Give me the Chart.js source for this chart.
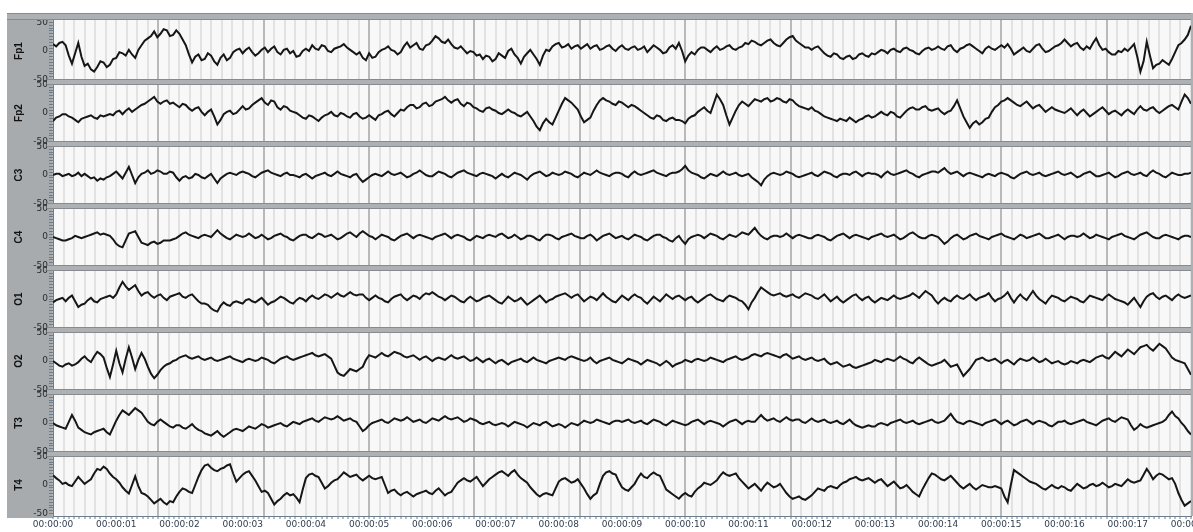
<!DOCTYPE html>
<html>
<head>
    <meta charset="utf-8" />
    <title>EEG</title>
    <script src="https://cdn.jsdelivr.net/npm/chart.js"></script>
    <style>
        html, body { margin: 0; padding: 0; background: #ffffff; }
        #wrap { width: 1193px; height: 532px; }
    </style>
</head>
<body>
    <div id="wrap">
        <canvas id="eeg" width="1193" height="532"></canvas>
    </div>

    <script>
        // canales y datos (uV), una muestra cada 0.05 s, una linea = 1 s
        const channels = ['Fp1', 'Fp2', 'C3', 'C4', 'O1', 'O2', 'T3', 'T4'];
        const sampleStep = 0.05;
        const secondsShown = 18;
        const yTickLabels = [50, 0, -50];
        const timeLabels = ['00:00:00', '00:00:01', '00:00:02', '00:00:03', '00:00:04', '00:00:05',
            '00:00:06', '00:00:07', '00:00:08', '00:00:09', '00:00:10', '00:00:11', '00:00:12',
            '00:00:13', '00:00:14', '00:00:15', '00:00:16', '00:00:17', '00:00:18'];

        const fp1 = [
            12, 8, 14, 16, 10, -8, -22, -4, 14, -10, -26, -22, -32, -36, -28, -18, -20, -28, -24, -14,
            -12, -2, -4, -8, 2, -6, -12, 2, 10, 18, 22, 26, 34, 24, 30, 38, 36, 26, 28, 36,
            30, 20, 10, -6, -20, -10, -6, -16, -14, -4, -8, -18, -24, -12, -6, -16, -12, -2, 2, 4,
            -4, 2, 6, -2, -8, -4, 2, 6, -2, 4, 8, -2, -6, 2, 4, -4, 0, -10, -8, 0,
            4, 0, 10, 4, 2, 10, 8, 0, -2, 4, 6, 8, 12, 6, 2, -2, -6, -2, -12, -16,
            -4, -12, -10, -2, 2, 4, 8, 2, 0, -6, -2, 8, 15, 6, 10, 14, 4, 2, 10, 12,
            18, 26, 22, 16, 14, 20, 12, 6, 4, 8, 2, -4, 0, -2, -8, -6, -14, -8, -10, -18,
            -14, -4, -8, -12, 0, 4, -6, -12, -22, -10, -4, 2, -6, -14, -24, -8, 2, 0, 8, 12,
            14, 6, 8, 12, 4, 8, 10, 4, 8, 12, 4, 8, 10, 2, 4, 8, 10, 4, 0, 6,
            10, 4, 2, 6, 8, 2, 4, 8, -2, 4, 10, 6, 2, -4, -2, 6, 10, 4, 14, 0,
            -18, -8, -2, -6, 2, 6, 6, 2, -2, 4, 8, 2, 4, 8, 10, 4, 2, 6, 8, 14,
            12, 18, 16, 12, 10, 14, 18, 20, 14, 10, 8, 14, 20, 24, 26, 18, 14, 10, 6, 6,
            2, 6, 8, 2, -4, -8, -10, -4, -6, -12, -14, -10, -8, -14, -12, -6, -4, -8, -10, -4,
            -6, -2, 2, 0, -4, 2, 4, 0, -2, 4, 6, 2, 0, -4, -6, 0, 4, 6, 2, 4,
            8, 4, 2, 8, 10, 2, -2, 4, 6, 10, 12, 8, 4, 0, -4, 4, 8, 4, 2, 6,
            10, 6, 12, 4, -6, -2, 2, 6, 0, -2, 4, 10, 12, 4, -2, 0, 4, 8, 10, 14,
            20, 14, 8, 12, 14, 6, 2, 8, 4, 14, 22, 10, 2, 4, -2, -6, -6, 0, -2, 4,
            0, 6, 12, -10, -36, -18, 16, -8, -30, -24, -22, -16, -20, -24, -14, -2, 10, 14, 20, 28,
            44];

        const fp2 = [
            -14, -8, -6, -2, -2, -6, -8, -12, -16, -10, -8, -6, -4, -8, -10, -4, -6, -4, -2, -4,
            2, 4, -2, 4, 8, 2, 6, 10, 14, 16, 20, 24, 28, 20, 16, 20, 22, 16, 18, 14,
            10, 16, 14, 8, 4, 8, 10, 2, -4, 2, 6, -6, -20, -12, -2, 2, 4, -2, 0, 6,
            12, 6, 8, 14, 18, 22, 26, 18, 14, 22, 20, 10, 6, 12, 10, 4, 2, 0, -4, -8,
            -10, -4, -6, -10, -14, -8, -4, -2, 2, -4, -6, 0, -2, -6, -8, -2, 0, -6, -10, -8,
            -4, -8, -12, -4, -2, 2, 4, -2, -6, 0, 6, 4, 10, 14, 14, 8, 10, 16, 18, 12,
            14, 20, 22, 24, 28, 22, 18, 22, 24, 16, 12, 18, 16, 10, 8, 4, 2, 8, 10, 6,
            4, 0, -2, 2, 6, 2, 0, -4, -6, -2, 2, -6, -14, -24, -30, -18, -10, -16, -20, -8,
            4, 16, 26, 22, 18, 12, 6, -6, -16, -12, -8, 4, 14, 22, 26, 22, 20, 16, 14, 20,
            18, 14, 10, 14, 12, 8, 4, 0, -4, -8, -10, -4, -6, -12, -14, -10, -8, -12, -12, -14,
            -18, -10, -6, -4, 2, 6, 10, 4, 0, 16, 32, 24, 14, -4, -20, -8, 4, 14, 20, 16,
            12, 18, 24, 22, 20, 24, 26, 20, 22, 26, 24, 20, 18, 24, 22, 16, 12, 10, 8, 6,
            10, 4, 2, -2, -6, -8, -10, -12, -14, -10, -12, -14, -8, -12, -16, -12, -10, -6, -4, -8,
            -6, -2, 2, -2, -4, 2, 0, -6, -8, -2, 4, 8, 10, 6, 6, 10, 12, 6, 4, 6,
            8, 2, -2, 2, 4, 12, 22, 8, -6, -16, -26, -18, -14, -20, -16, -10, -8, 2, 10, 14,
            20, 22, 26, 22, 18, 14, 12, 16, 20, 14, 8, 12, 14, 8, 2, 6, 10, 6, 4, 2,
            0, 4, 8, 2, -4, 2, 6, 0, -6, -2, 2, 6, 10, 4, -2, 2, 4, 0, -4, 2,
            6, 2, -2, 6, 12, 6, 4, 8, 10, 4, 0, 4, 8, 12, 14, 10, 6, 20, 32, 26,
            16];

        const c3 = [
            0, 2, 2, -2, 0, 2, -2, 0, 4, -2, 2, -2, -6, -4, -10, -6, -8, -4, -2, 2,
            6, 0, -6, 4, 14, 0, -14, -4, 2, 4, 8, 2, 4, 8, 6, 2, 2, 6, 4, -4,
            -10, -4, -2, -6, -4, 2, 0, -4, -6, -2, 2, -6, -14, -6, -2, 2, 4, 2, 0, 4,
            6, 4, 2, -2, -4, 0, 4, 6, 8, 4, 2, 0, -2, 2, 4, 0, 0, -2, -4, 0,
            2, -2, -6, -2, 0, 2, 4, 0, -2, 2, 6, 2, 0, -2, -4, 0, 2, -6, -12, -8,
            -4, 0, 2, 0, -2, 2, 6, 2, 0, 2, 4, 0, -4, -2, 2, 4, 8, 4, 0, -2,
            -2, 2, 6, 4, 2, -2, -4, 0, 4, 6, 8, 4, 2, 0, -2, 2, 4, 2, 0, -2,
            -6, -2, 2, -2, -4, 0, 4, 2, 0, -4, -8, -2, 2, 4, 6, 2, -2, 0, 4, 2,
            0, 2, 6, 4, 2, -2, -4, 0, 4, 2, 0, 4, 8, 4, 2, 0, -2, 2, 4, 4,
            2, -2, -4, 2, 6, 2, 0, 2, 4, 6, 8, 4, 2, 0, -2, 2, 4, 4, 6, 10,
            16, 8, 4, 2, 0, -4, -6, -2, 2, 0, -2, 2, 6, 2, 0, 2, 4, 0, -2, 0,
            2, -4, -8, -12, -18, -8, -2, 2, 4, 2, 0, 2, 6, 4, 2, -2, -4, -2, 0, 2,
            4, 0, -2, 2, 6, 4, 2, -2, -4, 0, 2, 2, 0, 4, 6, 2, -2, 2, 4, 2,
            2, 0, -4, 2, 6, 2, 0, 2, 4, 6, 8, 4, 2, -2, -4, 0, 2, 4, 6, 6,
            4, 8, 12, 6, 2, 4, 6, 2, -2, 2, 4, 2, 0, -2, -4, 0, 2, 0, -2, 2,
            4, 2, 0, -4, -6, -2, 2, 4, 6, 2, 0, 2, 4, 0, -2, 0, 2, 4, 6, 2,
            0, 2, 4, 0, -4, -2, 2, 4, 6, 2, -2, -2, 0, 2, 4, 0, -4, -2, 2, 4,
            6, 2, 0, 2, 4, 0, -2, 4, 8, 4, 2, -2, -4, 0, 4, 2, 0, 0, 2, 2,
            4];

        const c4 = [
            0, -2, -4, -6, -6, -4, -2, 2, 0, -2, 0, 2, 4, 6, 8, 4, 6, 4, 2, -4,
            -12, -16, -18, -6, 6, 8, 10, 0, -10, -12, -14, -10, -8, -12, -10, -6, -6, -6, -4, -2,
            2, 6, 8, 4, 2, 0, -2, 2, 4, 2, 0, 6, 12, 6, 2, -2, -4, 0, 4, 2,
            0, 2, 6, 2, -2, 0, 4, 0, -4, -2, 2, 4, 6, 2, 0, -4, -6, -2, 2, 4,
            4, 0, -2, 2, 6, 4, 0, 2, 4, 0, -4, -2, 2, 6, 8, 4, 0, 6, 10, 6,
            2, 0, -4, 0, 4, 2, 0, -4, -6, -2, 2, 4, 6, 2, -2, 2, 4, 2, 0, -2,
            -4, 0, 2, 4, 6, 2, -2, 2, 4, 2, 0, -4, -6, -2, 2, 0, -2, 2, 4, 2,
            0, 4, 6, 2, -2, 0, 4, 0, -4, -2, 2, 2, 0, -4, -6, 0, 4, 4, 2, -2,
            -4, 0, 2, 4, 6, 2, 0, -2, -2, 2, 4, 0, -6, -2, 2, 4, 6, 2, -2, 0,
            2, -2, -4, 0, 4, 2, 0, -4, -6, -2, 2, 4, 4, 0, -2, -6, -8, -2, 2, -6,
            -12, -4, 0, 2, 4, 2, -2, 2, 6, 4, 2, -2, -4, 0, 4, 2, 0, 4, 8, 6,
            4, 10, 16, 8, 2, -2, -4, 0, 2, 2, 0, 2, 6, 2, -2, 2, 4, 2, 0, -2,
            -2, 2, 4, 2, 0, -4, -6, -2, 2, 4, 6, 2, -2, 2, 4, 2, 0, -2, -4, 0,
            2, 4, 6, 2, 0, 2, 4, 0, -4, -2, 2, 6, 8, 4, 0, -2, -2, 2, 4, 2,
            0, -6, -12, -8, -2, 2, 4, 0, -4, -2, 2, 4, 6, 2, 0, -2, -4, 0, 2, 4,
            6, 2, 0, -2, -4, 0, 4, 2, -2, 0, 2, 4, 6, 2, -2, -2, 0, 2, 4, 0,
            -4, 0, 2, 2, 0, 2, 6, 2, -2, 0, 4, 2, 0, -2, -4, 0, 2, 4, 6, 2,
            0, -2, -4, 0, 4, 6, 8, 4, 0, -2, -2, 2, 4, 2, 0, -2, -4, 0, 2, 2,
            0];

        const o1 = [
            -6, -2, 0, 2, -4, 2, 6, -4, -14, -10, -8, -2, 2, -4, -6, 0, 2, 4, 6, 2,
            8, 20, 30, 22, 16, 20, 24, 14, 6, 10, 12, 6, 2, 6, 8, 2, -2, 4, 6, 8,
            10, 4, 2, 6, 8, 2, -4, -8, -8, -10, -16, -20, -22, -12, -6, -10, -12, -6, -4, -6,
            -8, -2, 0, -4, -6, -2, 2, -4, -10, -6, -4, 0, 4, 2, -2, -6, -8, -2, 2, 0,
            -4, 2, 6, 2, 0, 4, 8, 6, 2, 6, 10, 6, 4, 8, 12, 8, 6, 8, 8, 2,
            -2, 2, 6, 2, 0, -4, -6, 0, 4, 6, 8, 2, -2, 2, 6, 4, 0, 6, 10, 8,
            12, 8, 4, 2, -2, 2, 6, 4, 0, -4, -6, 0, 4, 0, -4, -2, 2, 4, 6, 2,
            -2, -6, -8, -2, 4, 0, -4, -2, 2, -4, -10, -6, -2, 2, 6, 0, -6, -2, 0, 4,
            6, 8, 10, 6, 2, 6, 8, 2, -4, 0, 4, 2, -2, 4, 10, 4, 0, -4, -6, 0,
            6, 2, -2, 4, 8, 4, 2, -4, -8, -2, 4, 0, -4, 2, 8, 4, 0, 4, 6, 2,
            -2, 2, 4, -2, -6, -2, 2, 6, 8, 4, 0, -2, -4, 2, 6, 4, 2, -2, -4, -10,
            -18, -6, 2, 12, 20, 16, 12, 8, 6, 8, 10, 6, 4, 6, 8, 4, 2, 6, 10, 8,
            6, 2, 0, 4, 8, 2, -4, 0, 4, -2, -6, -2, 2, 6, 8, 2, -2, 2, 4, -2,
            -6, -2, 2, 0, -2, 2, 6, 2, 0, 2, 4, 6, 10, 6, 2, 8, 14, 10, 6, -2,
            -8, -2, 2, -2, -4, 2, 6, 2, 0, 4, 8, 2, -2, 2, 4, 6, 10, 2, -4, 0,
            2, 6, 12, 2, -6, 2, 8, 2, -2, 6, 14, 6, 0, -4, -8, 0, 6, 4, 2, -2,
            -4, 0, 4, 2, 0, -4, -6, 0, 6, 4, 2, 0, -2, 4, 8, 4, 0, -2, -4, -6,
            -10, -4, 2, -6, -14, -4, 4, 8, 10, 4, 0, 4, 6, 2, -2, 4, 8, 4, 2, 4,
            6];

        const o2 = [
            0, -4, -8, -10, -6, -4, -8, -6, -2, 4, 8, 2, -2, 8, 16, 12, 6, -12, -28, -6,
            18, -4, -20, 4, 24, 6, -14, 2, 14, 4, -10, -22, -30, -24, -16, -10, -6, -4, 0, 2,
            6, 8, 10, 6, 4, 6, 8, 4, 2, 4, 6, 2, 0, 2, 4, 6, 8, 4, 2, 0,
            -2, 2, 4, 2, 0, 2, 6, 4, 2, -2, -4, 0, 4, 6, 8, 4, 2, 4, 6, 8,
            10, 12, 14, 10, 8, 10, 12, 8, 4, -8, -20, -24, -26, -20, -14, -16, -18, -14, -10, 2,
            10, 8, 6, 10, 14, 10, 8, 12, 16, 14, 12, 8, 6, 8, 10, 6, 2, 6, 8, 4,
            0, 4, 6, 4, 2, 6, 10, 6, 4, 6, 8, 4, 0, 2, 6, 2, -2, 2, 4, 0,
            -4, 0, 2, -2, -6, -2, 0, 2, 4, 0, -2, 2, 6, 2, 0, -2, -4, 0, 2, 4,
            6, 4, 2, 6, 8, 6, 4, 2, 0, 2, 6, 0, -4, 0, 2, 4, 6, 2, 0, -2,
            -4, 0, 4, 2, 0, -2, -6, -2, 2, 0, -2, -4, -8, -4, 0, -4, -10, -6, -4, -2,
            2, 0, -2, 2, 4, 2, 0, 2, 6, 4, 2, 0, -2, 2, 4, 6, 8, 4, 2, 4,
            6, 10, 12, 10, 8, 12, 14, 12, 10, 8, 6, 10, 12, 8, 4, 6, 8, 4, 2, 4,
            6, 2, 0, 2, 4, -2, -6, -4, -2, -6, -10, -8, -6, -10, -12, -10, -8, -6, -4, -2,
            2, 0, -2, 2, 4, 2, 0, 4, 8, 4, 2, -2, -4, 2, 6, 2, -2, -6, -8, -6,
            -4, -2, 2, -4, -10, -8, -6, -16, -26, -20, -14, -6, 2, 4, 6, 2, 0, 2, 4, 0,
            -4, 0, 2, -2, -6, 0, 4, 2, 0, 2, 6, 2, -2, 0, 4, 0, -4, -2, 0, -4,
            -6, -4, 0, -2, -4, 0, 2, 0, -2, 2, 6, 8, 10, 6, 4, 10, 16, 12, 8, 14,
            20, 16, 12, 18, 24, 26, 28, 22, 18, 24, 30, 26, 22, 14, 6, 2, 0, -2, -4, -14,
            -24];

        const t3 = [
            0, -4, -6, -8, -10, 2, 14, 4, -8, -12, -16, -18, -20, -16, -14, -12, -10, -16, -20, -8,
            4, 14, 22, 18, 14, 20, 26, 22, 18, 10, 2, -2, -4, 2, 6, 2, -2, -6, -8, -4,
            -4, -8, -10, -6, -2, -8, -12, -14, -18, -20, -22, -18, -14, -20, -24, -20, -16, -12, -10, -12,
            -14, -10, -6, -8, -10, -6, -2, -4, -8, -6, -4, -2, 0, -4, -6, -2, 2, 0, -2, 2,
            4, 6, 8, 4, 2, 6, 10, 8, 6, 8, 12, 8, 4, 6, 8, 4, 2, -6, -14, -10,
            -4, 0, 2, 4, 6, 2, 0, 4, 8, 6, 4, 6, 10, 6, 2, 4, 6, 2, 0, 4,
            8, 6, 4, 8, 12, 8, 6, 8, 10, 6, 2, 4, 8, 6, 4, 0, -2, 0, 2, -2,
            -4, -2, 0, -2, -6, -2, 2, 0, -2, -4, -8, -4, 0, -2, -4, 0, 2, -2, -6, -4,
            -2, -4, -8, -4, 0, -2, -4, 0, 4, 2, 0, 2, 6, 4, 2, 0, -2, 2, 4, 4,
            2, 4, 6, 2, 0, 2, 4, 0, -2, 2, 6, 4, 2, -2, -4, 0, 4, 2, 0, -2,
            -4, -2, 2, 4, 6, 2, -2, 2, 4, 2, 0, -2, -6, -2, 2, 4, 6, 2, -2, 2,
            4, 2, 2, 8, 14, 8, 4, 6, 8, 4, 2, 6, 10, 6, 4, 6, 6, 2, 0, 4,
            8, 4, 2, 4, 6, 2, 0, 2, 4, 0, -2, 2, 6, 0, -4, -6, -8, -6, -4, -6,
            -6, -2, 0, -2, -4, 0, 2, 4, 6, 2, 0, 2, 4, 0, -2, 0, 2, 4, 6, 2,
            0, 2, 4, 10, 16, 8, 2, 0, -2, 2, 4, 2, 0, -2, -4, 0, 2, 4, 6, 2,
            -2, 2, 4, 0, -4, -2, 2, 4, 6, 2, -2, 2, 4, 2, 0, -4, -6, -2, 2, 2,
            4, 0, -2, 0, 2, 4, 6, 2, 0, -2, -4, 0, 4, 6, 8, 4, 2, 6, 10, 8,
            6, -4, -12, -8, -2, -6, -8, -6, -4, -2, 0, 2, 6, 14, 20, 12, 8, 0, -6, -14,
            -20];

        const t4 = [
            17, 12, 8, 2, 4, 0, -2, 6, 14, 8, 2, 6, 10, 20, 28, 26, 32, 28, 20, 14,
            10, 4, -4, -10, -15, 0, 15, -2, -14, -16, -20, -26, -32, -28, -24, -30, -34, -28, -30, -20,
            -12, -6, -8, -12, -14, 0, 14, 26, 34, 36, 30, 26, 24, 28, 30, 34, 36, 20, 6, 12,
            18, 22, 24, 16, 8, -2, -12, -10, -14, -24, -34, -28, -24, -18, -14, -18, -16, -22, -30, -8,
            12, 18, 20, 16, 14, 4, -6, -2, 4, 8, 10, 16, 22, 18, 14, 16, 18, 12, 8, 12,
            16, 12, 10, 12, 14, 0, -14, -10, -8, -14, -18, -14, -12, -16, -20, -16, -14, -12, -10, -14,
            -16, -10, -6, -12, -18, -14, -12, -4, 4, 8, 12, 8, 6, 10, 14, 6, -2, 4, 10, 14,
            18, 22, 24, 20, 16, 22, 26, 18, 12, 8, 4, -4, -10, -16, -20, -16, -14, -16, -18, -6,
            6, 10, 12, 8, 4, 6, 10, 2, -6, -16, -24, -18, -14, 2, 16, 22, 24, 20, 18, 6,
            -4, -8, -10, -4, 2, 12, 20, 14, 12, 18, 22, 18, 16, 4, -8, -12, -16, -20, -24, -18,
            -14, -18, -20, -12, -6, -2, 4, 2, 0, 4, 8, 16, 22, 18, 16, 18, 20, 12, 6, 0,
            -6, -2, 2, -4, -10, -2, 4, 0, -4, -2, 2, -6, -14, -20, -24, -22, -20, -24, -26, -22,
            -18, -12, -6, -8, -10, -4, -2, -4, -6, 0, 4, 6, 10, 12, 14, 10, 8, 10, 12, 8,
            4, 8, 10, 4, -2, 2, 6, 0, -6, -4, 0, -6, -12, -16, -20, -8, 2, 12, 20, 18,
            14, 10, 8, 12, 16, 10, 4, -2, -6, -2, 2, -4, -8, -4, 0, -2, -4, -4, -2, -4,
            -6, -20, -30, 0, 26, 22, 18, 14, 10, 6, 4, 2, -2, -6, -8, -4, 0, -4, -6, -2,
            -4, -8, -10, -4, 2, -2, -6, -4, 0, 2, -2, 0, 4, 0, -4, -2, 2, 0, -2, 4,
            10, 6, 4, 6, 8, 18, 28, 20, 10, 16, 20, 18, 14, 10, 12, 2, -14, -26, -36, -32,
            -28];

        const series = [fp1, fp2, c3, c4, o1, o2, t3, t4];

        const FRAME = '#aeb1b4';
        const FRAME_LINE = '#878b90';
        const AXIS = '#6c7d8d';

        // marcas menores del eje y, cada 5 uV
        const yMinor = [];
        for (let v = 50; v >= -50; v -= 5) yMinor.push(v);

        const scales = {
            x: {
                type: 'linear',
                min: 0,
                max: secondsShown,
                position: 'bottom',
                afterBuildTicks: function (ax) {
                    ax.ticks = [];
                    for (let i = 0; i <= secondsShown * 12; i++) ax.ticks.push({ value: i / 12 });
                },
                afterFit: function (ax) {
                    ax.height = 16;
                    ax.paddingLeft = 0;
                    ax.paddingRight = 0;
                },
                grid: {
                    color: function (ctx) {
                        if (ctx.index % 20 === 0) return '#b9b9b9';
                        if (ctx.index % 2 === 0) return '#e2e2e2';
                        return 'rgba(0,0,0,0)';
                    },
                    lineWidth: 2,
                    tickColor: AXIS,
                    tickLength: 3,
                    tickWidth: 1
                },
                border: { color: AXIS },
                ticks: {
                    autoSkip: false,
                    maxRotation: 0,
                    minRotation: 0,
                    padding: 0,
                    color: '#2f3e4e',
                    font: { family: 'DejaVu Sans', size: 9 },
                    callback: function (v, i) { return i % 12 === 0 ? timeLabels[i / 12] : ''; }
                }
            }
        };

        channels.forEach(function (name, i) {
            scales['y' + i] = {
                type: 'linear',
                min: -54,
                max: 54,
                position: 'left',
                stack: 'eeg',
                stackWeight: 1,
                weight: channels.length - i,
                afterBuildTicks: function (ax) {
                    ax.ticks = yMinor.map(function (v) { return { value: v }; });
                },
                afterFit: function (ax) {
                    ax.width = 46;
                    ax.paddingTop = 0;
                    ax.paddingBottom = 0;
                },
                title: {
                    display: true,
                    text: name,
                    color: '#111111',
                    font: { family: 'Liberation Sans', size: 10, weight: 'bold' },
                    padding: { top: 6, bottom: 0 }
                },
                grid: {
                    drawOnChartArea: false,
                    tickLength: 4,
                    tickColor: AXIS
                },
                border: { color: AXIS },
                ticks: {
                    autoSkip: false,
                    padding: 1,
                    color: '#2b2b2b',
                    font: { family: 'DejaVu Sans', size: 9 },
                    callback: function (v) { return yTickLabels.includes(v) ? String(v) : ''; }
                }
            };
        });

        const datasets = channels.map(function (name, i) {
            return {
                label: name,
                yAxisID: 'y' + i,
                data: series[i].map(function (v, k) { return { x: k * sampleStep, y: v }; }),
                borderColor: '#161616',
                borderWidth: 2,
                pointRadius: 0,
                tension: 0
            };
        });

        // marco gris, fondo del area y separadores entre canales
        const framePlugin = {
            id: 'frame',
            beforeDraw: function (chart) {
                const ctx = chart.ctx;
                const a = chart.chartArea;
                ctx.save();
                ctx.fillStyle = '#a8abae';
                ctx.fillRect(7, 13, a.left - 7, a.bottom - 13 + 2);
                ctx.fillStyle = '#f8f8f8';
                ctx.fillRect(a.left, a.top, a.right - a.left, a.bottom - a.top);
                ctx.restore();
            },
            beforeDatasetsDraw: function (chart) {
                const ctx = chart.ctx;
                const a = chart.chartArea;
                ctx.save();
                function band(y0, y1, x0) {
                    ctx.fillStyle = FRAME;
                    ctx.fillRect(x0, y0, chart.width - x0, y1 - y0);
                    ctx.fillStyle = FRAME_LINE;
                    ctx.fillRect(x0, y0, chart.width - x0, 1);
                    ctx.fillRect(x0, y1 - 1, chart.width - x0, 1);
                }
                band(13, a.top, 7);
                for (let i = 0; i < channels.length - 1; i++) {
                    const y = chart.scales['y' + i].bottom;
                    band(Math.round(y) - 3, Math.round(y) + 3, a.left - 6);
                }
                ctx.fillStyle = FRAME;
                ctx.fillRect(a.right, 13, chart.width - a.right, a.bottom - 13);
                ctx.restore();
            }
        };

        const config = {
            type: 'line',
            data: { datasets: datasets },
            options: {
                responsive: false,
                animation: false,
                devicePixelRatio: 1,
                layout: { padding: { left: 7, top: 20, right: 2, bottom: 0 } },
                plugins: { legend: { display: false }, tooltip: { enabled: false } },
                scales: scales
            },
            plugins: [framePlugin]
        };

        const myChart = new Chart(document.getElementById('eeg'), config);
    </script>
</body>
</html>
